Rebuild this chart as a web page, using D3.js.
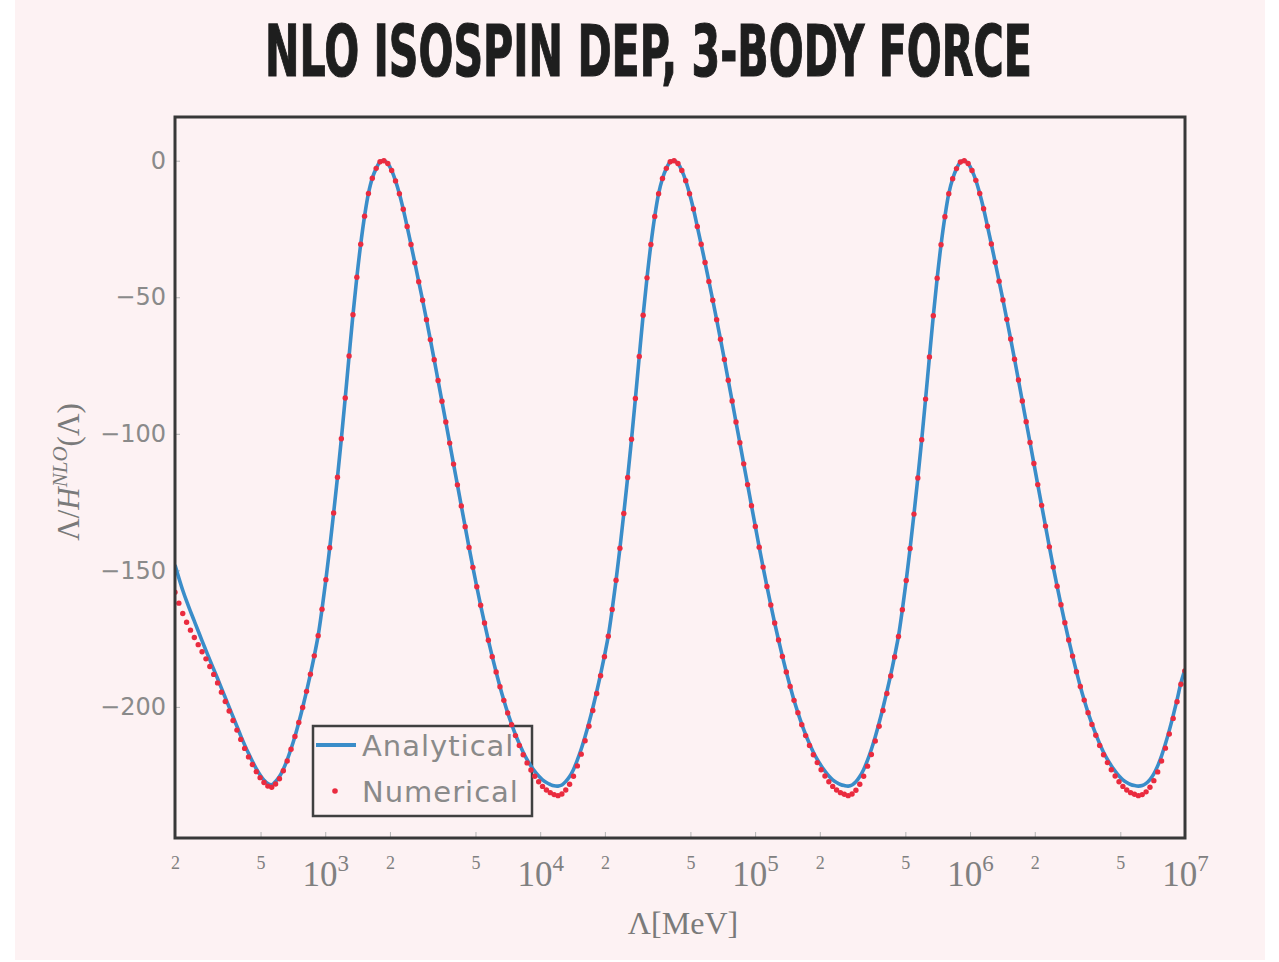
<!DOCTYPE html>
<html>
<head>
<meta charset="utf-8">
<script src="https://cdn.jsdelivr.net/npm/d3@7"></script>
<style>
  body { margin: 0; background: #ffffff; }
</style>
</head>
<body>
<div id="chart"></div>
<script>
// chart data
const titleText = "NLO ISOSPIN DEP, 3-BODY FORCE";

// log10 of the cutoff in MeV, the same grid for both series
const logLambda = [
  2.301,2.319,2.337,2.355,2.373,2.391,2.409,2.427,2.445,2.463,
  2.481,2.499,2.517,2.535,2.553,2.571,2.589,2.607,2.625,2.643,
  2.661,2.679,2.697,2.715,2.733,2.751,2.769,2.787,2.805,2.823,
  2.841,2.859,2.877,2.895,2.913,2.931,2.949,2.967,2.985,3.003,
  3.021,3.039,3.057,3.075,3.093,3.111,3.129,3.147,3.165,3.183,
  3.201,3.219,3.237,3.255,3.273,3.291,3.309,3.327,3.345,3.363,
  3.381,3.399,3.417,3.435,3.453,3.471,3.489,3.507,3.525,3.543,
  3.561,3.579,3.597,3.615,3.633,3.651,3.669,3.687,3.705,3.723,
  3.741,3.759,3.777,3.795,3.813,3.831,3.849,3.867,3.885,3.903,
  3.921,3.939,3.957,3.975,3.993,4.011,4.029,4.047,4.065,4.083,
  4.101,4.119,4.137,4.155,4.173,4.191,4.209,4.227,4.245,4.263,
  4.281,4.299,4.317,4.335,4.353,4.371,4.389,4.407,4.425,4.443,
  4.461,4.479,4.497,4.515,4.533,4.551,4.569,4.587,4.605,4.623,
  4.641,4.659,4.677,4.695,4.713,4.731,4.749,4.767,4.785,4.803,
  4.821,4.839,4.857,4.875,4.893,4.911,4.929,4.947,4.965,4.983,
  5.001,5.019,5.037,5.055,5.073,5.091,5.109,5.127,5.145,5.163,
  5.181,5.199,5.217,5.235,5.253,5.271,5.289,5.307,5.325,5.343,
  5.361,5.379,5.397,5.415,5.433,5.451,5.469,5.487,5.505,5.523,
  5.541,5.559,5.577,5.595,5.613,5.631,5.649,5.667,5.685,5.703,
  5.721,5.739,5.757,5.775,5.793,5.811,5.829,5.847,5.865,5.883,
  5.901,5.919,5.937,5.955,5.973,5.991,6.009,6.027,6.045,6.063,
  6.081,6.099,6.117,6.135,6.153,6.171,6.189,6.207,6.225,6.243,
  6.261,6.279,6.297,6.315,6.333,6.351,6.369,6.387,6.405,6.423,
  6.441,6.459,6.477,6.495,6.513,6.531,6.549,6.567,6.585,6.603,
  6.621,6.639,6.657,6.675,6.693,6.711,6.729,6.747,6.765,6.783,
  6.801,6.819,6.837,6.855,6.873,6.891,6.909,6.927,6.945,6.963,
  6.981,6.999
];

const analytical = [
  -148.0,-152.8,-157.3,-161.3,-165.0,-168.6,-172.2,-175.8,-179.3,-182.8,
  -186.2,-189.6,-193.1,-196.6,-200.1,-203.6,-207.1,-210.6,-213.9,-217.0,
  -219.9,-222.6,-224.9,-226.8,-228.1,-228.5,-227.3,-225.5,-222.8,-219.4,
  -215.3,-210.8,-205.7,-200.2,-194.3,-188.0,-181.3,-173.9,-164.2,-153.4,
  -141.7,-129.0,-115.9,-101.8,-86.9,-71.5,-56.4,-42.7,-30.6,-20.3,
  -12.0,-6.4,-2.8,-0.4,0.0,-1.0,-3.6,-7.4,-12.1,-17.8,
  -24.1,-30.7,-37.4,-44.3,-51.1,-58.2,-65.5,-72.9,-80.5,-88.1,
  -95.7,-103.4,-111.1,-118.7,-126.4,-134.0,-141.6,-148.9,-156.0,-162.8,
  -169.3,-175.6,-181.6,-187.2,-192.6,-197.6,-202.2,-206.3,-210.1,-213.5,
  -216.6,-219.3,-221.6,-223.6,-225.3,-226.7,-227.7,-228.4,-228.9,-229.0,
  -228.6,-227.3,-225.5,-222.9,-219.4,-215.4,-210.8,-205.8,-200.3,-194.4,
  -188.1,-181.3,-174.0,-164.3,-153.6,-141.9,-129.2,-116.0,-102.0,-87.1,
  -71.7,-56.6,-42.9,-30.7,-20.4,-12.1,-6.5,-2.8,-0.4,0.0,
  -1.0,-3.6,-7.3,-12.1,-17.7,-24.1,-30.6,-37.3,-44.2,-51.1,
  -58.2,-65.4,-72.8,-80.4,-88.0,-95.7,-103.3,-111.0,-118.6,-126.3,
  -133.9,-141.5,-148.8,-155.9,-162.7,-169.3,-175.5,-181.5,-187.2,-192.5,
  -197.6,-202.1,-206.3,-210.1,-213.5,-216.6,-219.2,-221.5,-223.5,-225.3,
  -226.7,-227.7,-228.4,-228.8,-229.0,-228.6,-227.4,-225.5,-222.9,-219.5,
  -215.5,-210.9,-205.8,-200.3,-194.4,-188.2,-181.4,-174.1,-164.4,-153.7,
  -142.0,-129.4,-116.2,-102.2,-87.3,-71.9,-56.8,-43.0,-30.8,-20.5,
  -12.1,-6.6,-2.9,-0.5,0.0,-1.0,-3.6,-7.2,-12.0,-17.6,
  -24.0,-30.5,-37.2,-44.1,-51.0,-58.1,-65.3,-72.7,-80.3,-88.0,
  -95.6,-103.2,-110.9,-118.6,-126.2,-133.8,-141.4,-148.8,-155.8,-162.6,
  -169.2,-175.5,-181.4,-187.1,-192.5,-197.5,-202.1,-206.2,-210.0,-213.5,
  -216.6,-219.2,-221.5,-223.5,-225.3,-226.7,-227.7,-228.4,-228.8,-229.0,
  -228.8,-228.0,-226.6,-224.5,-221.6,-217.9,-213.5,-208.6,-203.2,-197.4,
  -191.2,-186.5
];

const numerical = [
  -158.0,-162.0,-165.8,-169.0,-171.9,-174.6,-177.2,-179.8,-182.4,-185.2,
  -188.1,-191.2,-194.6,-198.0,-201.5,-205.0,-208.5,-211.9,-215.2,-218.3,
  -221.1,-223.7,-225.9,-227.7,-229.0,-229.4,-228.2,-226.3,-223.4,-219.8,
  -215.5,-210.8,-205.7,-200.2,-194.3,-188.0,-181.3,-173.9,-164.2,-153.4,
  -141.7,-129.0,-115.9,-101.8,-86.9,-71.5,-56.4,-42.7,-30.6,-20.3,
  -12.0,-6.4,-2.8,-0.4,0.0,-1.0,-3.6,-7.4,-12.1,-17.8,
  -24.1,-30.7,-37.4,-44.3,-51.1,-58.2,-65.5,-72.9,-80.5,-88.1,
  -95.7,-103.4,-111.1,-118.7,-126.4,-134.0,-141.6,-148.9,-156.0,-162.8,
  -169.3,-175.6,-181.6,-187.2,-192.6,-197.6,-202.2,-206.5,-210.5,-214.1,
  -217.5,-220.5,-223.1,-225.4,-227.4,-229.1,-230.4,-231.4,-232.1,-232.5,
  -231.9,-230.4,-228.3,-225.4,-221.6,-217.3,-212.4,-207.1,-201.3,-195.1,
  -188.6,-181.6,-174.1,-164.3,-153.6,-141.9,-129.2,-116.0,-102.0,-87.1,
  -71.7,-56.6,-42.9,-30.7,-20.4,-12.1,-6.5,-2.8,-0.4,0.0,
  -1.0,-3.6,-7.3,-12.1,-17.7,-24.1,-30.6,-37.3,-44.2,-51.1,
  -58.2,-65.4,-72.8,-80.4,-88.0,-95.7,-103.3,-111.0,-118.6,-126.3,
  -133.9,-141.5,-148.8,-155.9,-162.7,-169.3,-175.5,-181.5,-187.2,-192.5,
  -197.6,-202.1,-206.5,-210.5,-214.1,-217.5,-220.4,-223.0,-225.3,-227.4,
  -229.1,-230.4,-231.4,-232.0,-232.5,-231.9,-230.5,-228.3,-225.4,-221.7,
  -217.4,-212.5,-207.1,-201.3,-195.1,-188.7,-181.7,-174.2,-164.4,-153.7,
  -142.0,-129.4,-116.2,-102.2,-87.3,-71.9,-56.8,-43.0,-30.8,-20.5,
  -12.1,-6.6,-2.9,-0.5,0.0,-1.0,-3.6,-7.2,-12.0,-17.6,
  -24.0,-30.5,-37.2,-44.1,-51.0,-58.1,-65.3,-72.7,-80.3,-88.0,
  -95.6,-103.2,-110.9,-118.6,-126.2,-133.8,-141.4,-148.8,-155.8,-162.6,
  -169.2,-175.5,-181.4,-187.1,-192.5,-197.5,-202.1,-206.4,-210.4,-214.1,
  -217.5,-220.4,-223.0,-225.3,-227.4,-229.1,-230.4,-231.4,-232.0,-232.5,
  -232.1,-231.1,-229.4,-227.0,-223.8,-219.8,-215.1,-209.9,-204.2,-198.1,
  -191.7,-186.8
];

const yTicks = [0, -50, -100, -150, -200];
const xTicks = [200, 500, 1e3, 2e3, 5e3, 1e4, 2e4, 5e4, 1e5, 2e5, 5e5, 1e6, 2e6, 5e6, 1e7];
const legendLabels = ["Analytical", "Numerical"];
const xLabel = "Λ[MeV]";

// sizes
const w = 1279;
const h = 962;
const plot = {left: 175, right: 1185, top: 117, bottom: 838};
const bg = "#fdf2f3";
const blue = "#3a8dc9";
const red = "#ea2b3f";

const svg = d3.select("#chart")
              .append("svg")
              .attr("width", w)
              .attr("height", h);

svg.append("rect")
   .attr("x", 15).attr("y", 0)
   .attr("width", 1250).attr("height", 960)
   .attr("fill", bg);

// title: a bold face squeezed sideways to the width of the condensed original
const title = svg.append("text")
   .attr("text-anchor", "middle")
   .attr("font-family", "'DejaVu Sans Condensed', 'Liberation Sans Narrow', 'DejaVu Sans', sans-serif")
   .attr("font-weight", "bold")
   .attr("font-size", 72)
   .attr("fill", "#1e1e1e")
   .attr("stroke", "#1e1e1e")
   .attr("stroke-width", 1.2)
   .text(titleText);
const titleLen = title.node().getComputedTextLength();
title.attr("transform", "translate(648.5,76) scale(" + (767 / titleLen) + ",1)");

const xScale = d3.scaleLog()
                 .domain([200, 1e7])
                 .range([plot.left, plot.right]);
const yScale = d3.scaleLinear()
                 .domain([-248, 16])
                 .range([plot.bottom, plot.top]);

const anaData = logLambda.map((l, i) => ({lam: Math.pow(10, l), v: analytical[i]}));
const numData = logLambda.map((l, i) => ({lam: Math.pow(10, l), v: numerical[i]}));

// y axis, ticks pointing inward
const yAxis = d3.axisLeft(yScale)
                .tickValues(yTicks)
                .tickSizeInner(-5)
                .tickSizeOuter(0)
                .tickPadding(9)
                .tickFormat(d3.format("d"));
const gy = svg.append("g")
              .attr("transform", "translate(" + plot.left + ",0)")
              .call(yAxis)
              .attr("font-family", "'DejaVu Sans', sans-serif")
              .attr("font-size", 24);
gy.select(".domain").remove();
gy.selectAll(".tick line").attr("stroke", "#b5b5b5");
gy.selectAll(".tick text").attr("fill", "#8a8a8a");

// x axis: 2 and 5 as small digits, decades as 10^n
const xAxis = d3.axisBottom(xScale)
                .tickValues(xTicks)
                .tickSizeInner(-6)
                .tickSizeOuter(0)
                .tickFormat(() => "");
const gx = svg.append("g")
              .attr("transform", "translate(0," + plot.bottom + ")")
              .call(xAxis)
              .attr("font-family", "'Liberation Serif', serif");
gx.select(".domain").remove();
gx.selectAll(".tick line").attr("stroke", "#b5b5b5");
gx.selectAll(".tick text").each(function(d) {
  const t = d3.select(this).attr("fill", "#808080").attr("dy", null);
  const e = Math.round(Math.log10(d));
  if (Math.abs(Math.pow(10, e) - d) < 1e-6) {
    t.attr("y", 48);
    t.append("tspan").attr("font-size", 35).text("10");
    t.append("tspan").attr("font-size", 23).attr("dy", -15).text(e);
  } else {
    t.attr("y", 31).attr("font-size", 18).text(String(d).charAt(0));
  }
});

// axis titles
svg.append("text")
   .attr("x", 683).attr("y", 934)
   .attr("text-anchor", "middle")
   .attr("font-family", "'Liberation Serif', serif")
   .attr("font-size", 32)
   .attr("fill", "#7a7a7a")
   .text(xLabel);

const ylab = svg.append("text")
                .attr("transform", "translate(79,472) rotate(-90)")
                .attr("text-anchor", "middle")
                .attr("font-family", "'Liberation Serif', serif")
                .attr("font-size", 31)
                .attr("fill", "#7a7a7a");
ylab.append("tspan").text("Λ/");
ylab.append("tspan").attr("font-style", "italic").text("H");
ylab.append("tspan").attr("font-style", "italic").attr("font-size", 21).attr("dy", -12).text("NLO");
ylab.append("tspan").attr("dy", 12).text("(Λ)");

// legend box (no fill, the curves show through it)
const lg = svg.append("g");
lg.append("rect")
  .attr("x", 313).attr("y", 726)
  .attr("width", 219).attr("height", 90)
  .attr("fill", "none")
  .attr("stroke", "#404040")
  .attr("stroke-width", 2.5);
lg.append("line")
  .attr("x1", 316).attr("x2", 356)
  .attr("y1", 745).attr("y2", 745)
  .attr("stroke", blue).attr("stroke-width", 4);
lg.append("circle")
  .attr("cx", 335).attr("cy", 791).attr("r", 2.8)
  .attr("fill", red);
lg.selectAll("text.lab")
  .data(legendLabels)
  .enter()
  .append("text")
  .attr("class", "lab")
  .attr("x", 362)
  .attr("y", (d, i) => 756 + i * 46)
  .attr("font-family", "'DejaVu Sans', sans-serif")
  .attr("font-size", 29)
  .attr("letter-spacing", 1)
  .attr("fill", "#8a8a8a")
  .text(d => d);

// curves, clipped to the frame
svg.append("clipPath")
   .attr("id", "plot-clip")
   .append("rect")
   .attr("x", plot.left).attr("y", plot.top)
   .attr("width", plot.right - plot.left)
   .attr("height", plot.bottom - plot.top);

const gPlot = svg.append("g").attr("clip-path", "url(#plot-clip)");

const line = d3.line()
               .x(d => xScale(d.lam))
               .y(d => yScale(d.v))
               .curve(d3.curveCatmullRom);

gPlot.append("path")
     .datum(anaData)
     .attr("d", line)
     .attr("fill", "none")
     .attr("stroke", blue)
     .attr("stroke-width", 3.6)
     .attr("stroke-linejoin", "round");

gPlot.selectAll("circle")
     .data(numData)
     .enter()
     .append("circle")
     .attr("cx", d => xScale(d.lam))
     .attr("cy", d => yScale(d.v))
     .attr("r", 2.7)
     .attr("fill", red);

// frame on top
svg.append("rect")
   .attr("x", plot.left).attr("y", plot.top)
   .attr("width", plot.right - plot.left)
   .attr("height", plot.bottom - plot.top)
   .attr("fill", "none")
   .attr("stroke", "#383838")
   .attr("stroke-width", 3);
</script>
</body>
</html>
